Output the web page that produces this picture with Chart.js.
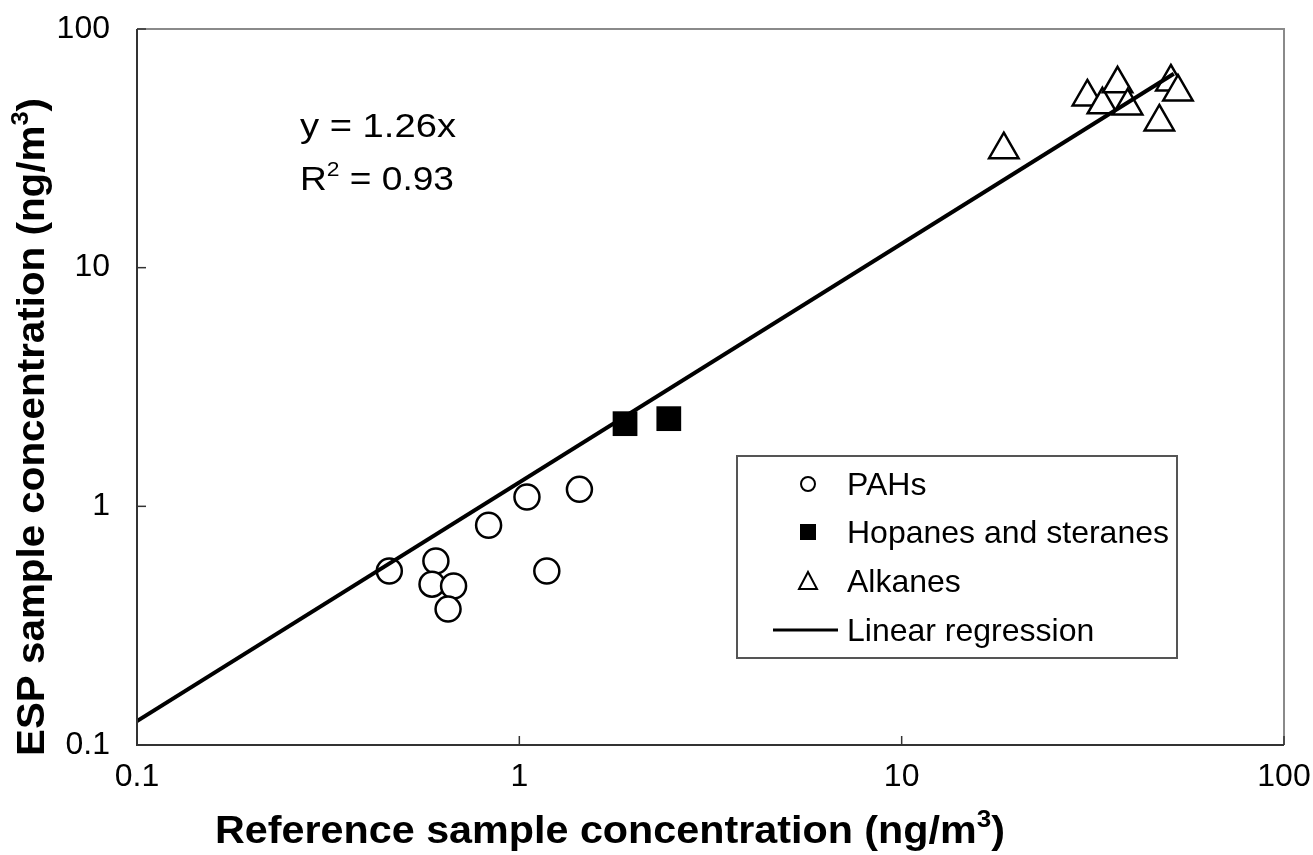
<!DOCTYPE html>
<html>
<head>
<meta charset="utf-8">
<script src="https://cdn.jsdelivr.net/npm/chart.js@4"></script>
<style>
  html, body { margin: 0; padding: 0; background: #fff; }
  canvas { display: block; }
</style>
</head>
<body>
<canvas id="chart" width="1313" height="855"></canvas>
<script>
// values
const pahX = [0.457, 0.605, 0.591, 0.673, 0.651, 0.831, 1.047, 1.436, 1.18]
const pahY = [0.536, 0.590, 0.472, 0.464, 0.371, 0.833, 1.094, 1.178, 0.536]
const hopX = [1.89, 2.46]
const hopY = [2.22, 2.33]
const alkX = [18.5, 30.6, 33.5, 36.7, 39.0, 47.2, 50.6, 52.8]
const alkY = [31.2, 51.9, 48.1, 58.9, 47.6, 40.8, 60.0, 54.5]
const fitX = [0.1, 51.5]
const fitY = [0.126, 64.9]
const tickValues = [0.1, 1, 10, 100]
const tickLabels = ["0.1", "1", "10", "100"]
const seriesNames = ["PAHs", "Hopanes and steranes", "Alkanes", "Linear regression"]

const FONT = "'Liberation Sans', Arial, sans-serif"
const pts = (xs, ys) => xs.map((x, i) => ({ x, y: ys[i] }))

// rich text: parts [{t, sup}], drawn from x along baseline y, stretched to width
function drawRich(ctx, parts, x, y, size, weight, width) {
  const supSize = Math.round(size * 0.62)
  const fontOf = (p) => `${weight} ${p.sup ? supSize : size}px ${FONT}`
  let total = 0
  parts.forEach(p => { ctx.font = fontOf(p); total += ctx.measureText(p.t).width })
  const sx = width ? width / total : 1
  ctx.save()
  ctx.translate(x, y)
  ctx.scale(sx, 1)
  ctx.textAlign = "left"
  ctx.textBaseline = "alphabetic"
  ctx.fillStyle = "#000"
  let cx = 0
  parts.forEach(p => {
    ctx.font = fontOf(p)
    ctx.fillText(p.t, cx, p.sup ? -size * 0.42 : 0)
    cx += ctx.measureText(p.t).width
  })
  ctx.restore()
}

const decorations = {
  id: "decorations",
  beforeDraw(chart) {
    const ctx = chart.ctx
    ctx.save()
    ctx.fillStyle = "#fff"
    ctx.fillRect(0, 0, chart.width, chart.height)
    ctx.restore()
  },
  afterDraw(chart) {
    const ctx = chart.ctx
    const a = chart.chartArea
    const xs = chart.scales.x, ys = chart.scales.y
    ctx.save()
    // plot frame
    ctx.lineWidth = 2
    ctx.strokeStyle = "#8a8a8a"
    ctx.beginPath()
    ctx.moveTo(a.left, a.top); ctx.lineTo(a.right, a.top); ctx.lineTo(a.right, a.bottom)
    ctx.stroke()
    ctx.strokeStyle = "#333"
    ctx.beginPath()
    ctx.moveTo(a.left, a.top); ctx.lineTo(a.left, a.bottom); ctx.lineTo(a.right, a.bottom)
    ctx.stroke()
    // inward tick marks
    ctx.lineWidth = 1.5
    tickValues.forEach(v => {
      const px = xs.getPixelForValue(v), py = ys.getPixelForValue(v)
      ctx.beginPath(); ctx.moveTo(px, a.bottom); ctx.lineTo(px, a.bottom - 9); ctx.stroke()
      ctx.beginPath(); ctx.moveTo(a.left, py); ctx.lineTo(a.left + 9, py); ctx.stroke()
    })

    // regression text
    drawRich(ctx, [{ t: "y = 1.26x" }], 300, 137, 34, "normal", 156)
    drawRich(ctx, [{ t: "R" }, { t: "2", sup: true }, { t: " = 0.93" }], 300, 190, 34, "normal", 154)

    // legend
    ctx.lineWidth = 2
    ctx.strokeStyle = "#555"
    ctx.strokeRect(737, 456, 440, 202)
    const rows = [484, 532, 581, 630]
    const mx = 808
    ctx.strokeStyle = "#000"
    ctx.fillStyle = "#fff"
    ctx.lineWidth = 2
    ctx.beginPath(); ctx.arc(mx, rows[0], 7, 0, Math.PI * 2); ctx.fill(); ctx.stroke()
    ctx.fillStyle = "#000"
    ctx.fillRect(mx - 8, rows[1] - 8, 16, 16)
    ctx.fillStyle = "#fff"
    ctx.beginPath()
    ctx.moveTo(mx, rows[2] - 9); ctx.lineTo(mx + 9, rows[2] + 8); ctx.lineTo(mx - 9, rows[2] + 8); ctx.closePath()
    ctx.fill(); ctx.stroke()
    ctx.lineWidth = 3
    ctx.beginPath(); ctx.moveTo(773, rows[3]); ctx.lineTo(838, rows[3]); ctx.stroke()
    ctx.font = `32px ${FONT}`
    ctx.fillStyle = "#000"
    ctx.textAlign = "left"
    ctx.textBaseline = "middle"
    seriesNames.forEach((s, i) => ctx.fillText(s, 847, rows[i] + 2))

    // axis titles
    drawRich(ctx, [{ t: "Reference sample concentration (ng/m" }, { t: "3", sup: true }, { t: ")" }],
      215, 843, 38, "bold", 790)
    ctx.save()
    ctx.translate(44, 756)
    ctx.rotate(-Math.PI / 2)
    drawRich(ctx, [{ t: "ESP sample concentration (ng/m" }, { t: "3", sup: true }, { t: ")" }],
      0, 0, 38, "bold", 658)
    ctx.restore()
    ctx.restore()
  }
}

const tickLabel = (v) => {
  const i = tickValues.findIndex(t => Math.abs(t - v) < 1e-9)
  return i >= 0 ? tickLabels[i] : ""
}

const logAxis = (position, fitFn, pad) => ({
  type: "logarithmic",
  position,
  min: 0.1,
  max: 100,
  grid: { display: false, drawTicks: false },
  border: { display: false },
  afterBuildTicks: (s) => { s.ticks = tickValues.map(v => ({ value: v })) },
  ticks: {
    autoSkip: false,
    maxRotation: 0,
    color: "#000",
    padding: pad,
    font: { family: FONT, size: 32 },
    callback: tickLabel
  },
  afterFit: fitFn
})

new Chart(document.getElementById("chart"), {
  type: "scatter",
  data: {
    datasets: [
      {
        label: seriesNames[0], data: pts(pahX, pahY), order: 1,
        pointStyle: "circle", pointRadius: 12.5, pointHoverRadius: 12.5,
        backgroundColor: "#fff", borderColor: "#000", borderWidth: 2.5
      },
      {
        label: seriesNames[1], data: pts(hopX, hopY), order: 1,
        pointStyle: "rect", pointRadius: 17.5, pointHoverRadius: 17.5,
        backgroundColor: "#000", borderColor: "#000", borderWidth: 0
      },
      {
        label: seriesNames[2], data: pts(alkX, alkY), order: 1,
        pointStyle: "triangle", pointRadius: 17, pointHoverRadius: 17,
        backgroundColor: "#fff", borderColor: "#000", borderWidth: 2.5
      },
      {
        type: "line", label: seriesNames[3], data: pts(fitX, fitY), order: 0,
        showLine: true, pointRadius: 0, borderColor: "#000", borderWidth: 4, fill: false
      }
    ]
  },
  options: {
    responsive: false,
    animation: false,
    layout: { padding: { top: 29, right: 29, left: 0, bottom: 0 } },
    plugins: { legend: { display: false }, tooltip: { enabled: false } },
    scales: {
      x: logAxis("bottom", (s) => { s.height = 110; s.paddingLeft = 0; s.paddingRight = 0 }, 13),
      y: logAxis("left", (s) => { s.width = 137; s.paddingTop = 0; s.paddingBottom = 0 }, 27)
    }
  },
  plugins: [decorations]
})
</script>
</body>
</html>
